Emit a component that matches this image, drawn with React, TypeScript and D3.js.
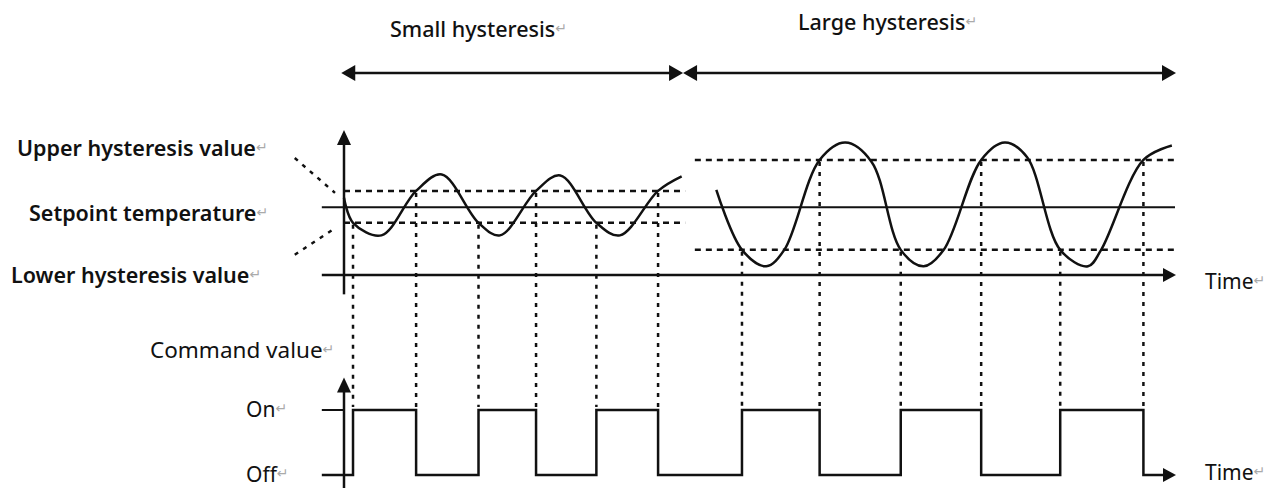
import React from 'react';
import * as d3 from 'd3';

const W = 1273;
const H = 488;

// temperature trace, small hysteresis part (time in min, temp relative to setpoint)
const smallTime = [0, 1.3, 5.4, 10.4, 14.1, 19.4, 22.5, 27.7, 31.2, 36.4, 39.8, 45.3, 48.7];
const smallTemp = [1.0, -1.6, -2.9, 1.7, 3.4, -1.6, -2.9, 1.7, 3.3, -1.6, -2.9, 1.7, 3.2];

// temperature trace, large hysteresis part
const largeTime = [53.7, 57.4, 60.9, 63.5, 68.6, 72.3, 76.1, 80.3, 83.6, 86.5, 91.9, 95.3, 98.5, 103.3, 107.3, 109.2, 115.3, 119.4];
const largeTemp = [1.8, -4.4, -6.1, -4.4, 4.9, 6.7, 4.7, -4.4, -6.1, -4.4, 4.9, 6.7, 5.2, -4.4, -6.1, -4.4, 4.9, 6.4];

// hysteresis limits [upper, lower] and the time span where each applies
const smallLimits = [1.7, -1.6];
const largeLimits = [4.9, -4.4];
const smallSpan = [0, 49.2];
const largeSpan = [50.6, 120];
const setpoint = 0;

// command switching times (on at lower limit, off at upper limit)
const smallOn = [1.3, 19.4, 36.4];
const smallOff = [10.4, 27.7, 45.3];
const largeOn = [57.4, 80.3, 103.3];
const largeOff = [68.6, 91.9, 115.3];

const commandLevels = ['Off', 'On'];

const font = "'Noto Sans', 'DejaVu Sans', sans-serif";
const ink = '#111';

const head = (px: number, py: number, dir: string, len = 13, half = 7) => {
  if (dir === 'right') return `M${px},${py}L${px - len},${py - half}L${px - len},${py + half}Z`;
  if (dir === 'left') return `M${px},${py}L${px + len},${py - half}L${px + len},${py + half}Z`;
  return `M${px},${py}L${px - half},${py + len}L${px + half},${py + len}Z`;
};

const Ret = () => (
  <tspan fill="#aaa" fontSize={14} fontWeight={400} dy={-4}>↵</tspan>
);

export default function App() {
  const x = d3.scaleLinear().domain([0, 120]).range([344, 1176]);
  const yT = d3.scaleLinear().domain([-7, 8]).range([275, 130]);
  const yC = d3.scaleLinear().domain([0, 1]).range([475, 410]);

  const line = d3.line<[number, number]>()
    .x(d => x(d[0]))
    .y(d => yT(d[1]))
    .curve(d3.curveCatmullRom.alpha(0.5));

  const smallPts = smallTime.map((t, i) => [t, smallTemp[i]] as [number, number]);
  const largePts = largeTime.map((t, i) => [t, largeTemp[i]] as [number, number]);

  // square wave for the command value
  const allOn = [...smallOn, ...largeOn];
  const allOff = [...smallOff, ...largeOff];
  const tStart = -3.2;
  const tEnd = 120;
  let cmd = `M${x(tStart)},${yC(0)}`;
  allOn.forEach((t, i) => {
    cmd += `L${x(t)},${yC(0)}L${x(t)},${yC(1)}L${x(allOff[i])},${yC(1)}L${x(allOff[i])},${yC(0)}`;
  });
  cmd += `L${x(tEnd) - 10},${yC(0)}`;

  const topY = 73;
  const mid = x(48.9);

  const dotted = [
    ...smallOn.map(t => ({ t, from: smallLimits[1] })),
    ...smallOff.map(t => ({ t, from: smallLimits[0] })),
    ...largeOn.map(t => ({ t, from: largeLimits[1] })),
    ...largeOff.map(t => ({ t, from: largeLimits[0] })),
  ];

  return (
    <svg width={W} height={H} style={{ position: 'absolute', left: 0, top: 0, background: '#fff' }}
      fontFamily={font}>
      {/* span arrows */}
      <line x1={x(-0.4) + 10} x2={mid - 10} y1={topY} y2={topY} stroke={ink} strokeWidth={2.5} />
      <line x1={mid + 10} x2={x(tEnd) - 10} y1={topY} y2={topY} stroke={ink} strokeWidth={2.5} />
      <path d={head(x(-0.4), topY, 'left', 14, 8)} fill={ink} />
      <path d={head(mid, topY, 'right', 14, 8)} fill={ink} />
      <path d={head(mid, topY, 'left', 14, 8)} fill={ink} />
      <path d={head(x(tEnd), topY, 'right', 14, 8)} fill={ink} />
      <text x={390} y={37} fontSize={21.5} fontWeight={500} fill={ink}>Small hysteresis<Ret /></text>
      <text x={798} y={30} fontSize={21.5} fontWeight={500} fill={ink}>Large hysteresis<Ret /></text>

      {/* temperature panel */}
      <line x1={x(0)} x2={x(0)} y1={yT(7)} y2={yT(-9)} stroke={ink} strokeWidth={2.5} />
      <path d={head(x(0), yT(8), 'up', 15, 7)} fill={ink} />
      <line x1={x(tStart)} x2={x(tEnd) - 10} y1={yT(-7)} y2={yT(-7)} stroke={ink} strokeWidth={2.5} />
      <path d={head(x(tEnd), yT(-7), 'right', 13, 7)} fill={ink} />
      <line x1={x(tStart)} x2={x(tEnd) - 1} y1={yT(setpoint)} y2={yT(setpoint)} stroke={ink} strokeWidth={2} />

      {smallLimits.map((v, i) => (
        <line key={'s' + i} x1={x(smallSpan[0])} x2={x(smallSpan[1])} y1={yT(v)} y2={yT(v)}
          stroke={ink} strokeWidth={2.5} strokeDasharray="6,5" />
      ))}
      {largeLimits.map((v, i) => (
        <line key={'l' + i} x1={x(largeSpan[0])} x2={x(largeSpan[1]) - 1} y1={yT(v)} y2={yT(v)}
          stroke={ink} strokeWidth={2.5} strokeDasharray="6,5" />
      ))}

      {/* leader lines from the labels */}
      <line x1={x(-7.1)} y1={yT(5.1)} x2={x(-1.3)} y2={yT(1.5)} stroke={ink} strokeWidth={2.5} strokeDasharray="4,6" />
      <line x1={x(-7.1)} y1={yT(-4.9)} x2={x(-1.6)} y2={yT(-2.3)} stroke={ink} strokeWidth={2.5} strokeDasharray="4,6" />

      {dotted.map((d, i) => (
        <line key={'d' + i} x1={x(d.t)} x2={x(d.t)} y1={yT(d.from) + 2} y2={yC(1) - 3}
          stroke={ink} strokeWidth={2.5} strokeDasharray="4,6" />
      ))}

      <path d={line(smallPts) || ''} fill="none" stroke={ink} strokeWidth={2.5} />
      <path d={line(largePts) || ''} fill="none" stroke={ink} strokeWidth={2.5} />

      <text x={17} y={156} fontSize={21.5} fontWeight={600} fill={ink}>Upper hysteresis value<Ret /></text>
      <text x={29} y={221} fontSize={21.5} fontWeight={600} fill={ink}>Setpoint temperature<Ret /></text>
      <text x={11} y={283} fontSize={21.5} fontWeight={600} fill={ink}>Lower hysteresis value<Ret /></text>
      <text x={1205} y={289} fontSize={21} fill={ink}>Time<Ret /></text>

      {/* command panel */}
      <text x={150} y={358} fontSize={22.5} fill={ink}>Command value<Ret /></text>
      <line x1={x(0)} x2={x(0)} y1={yC(1.3)} y2={H + 5} stroke={ink} strokeWidth={2.5} />
      <path d={head(x(0), yC(1.5), 'up', 15, 7)} fill={ink} />
      <line x1={x(tStart)} x2={x(0)} y1={yC(1)} y2={yC(1)} stroke={ink} strokeWidth={2} />
      <path d={cmd} fill="none" stroke={ink} strokeWidth={2.5} />
      <path d={head(x(tEnd), yC(0), 'right', 13, 7)} fill={ink} />
      {commandLevels.map((lv, i) => (
        <text key={lv} x={246} y={yC(i) + 7} fontSize={21} fill={ink}>{lv}<Ret /></text>
      ))}
      <text x={1205} y={480} fontSize={21} fill={ink}>Time<Ret /></text>
    </svg>
  );
}
